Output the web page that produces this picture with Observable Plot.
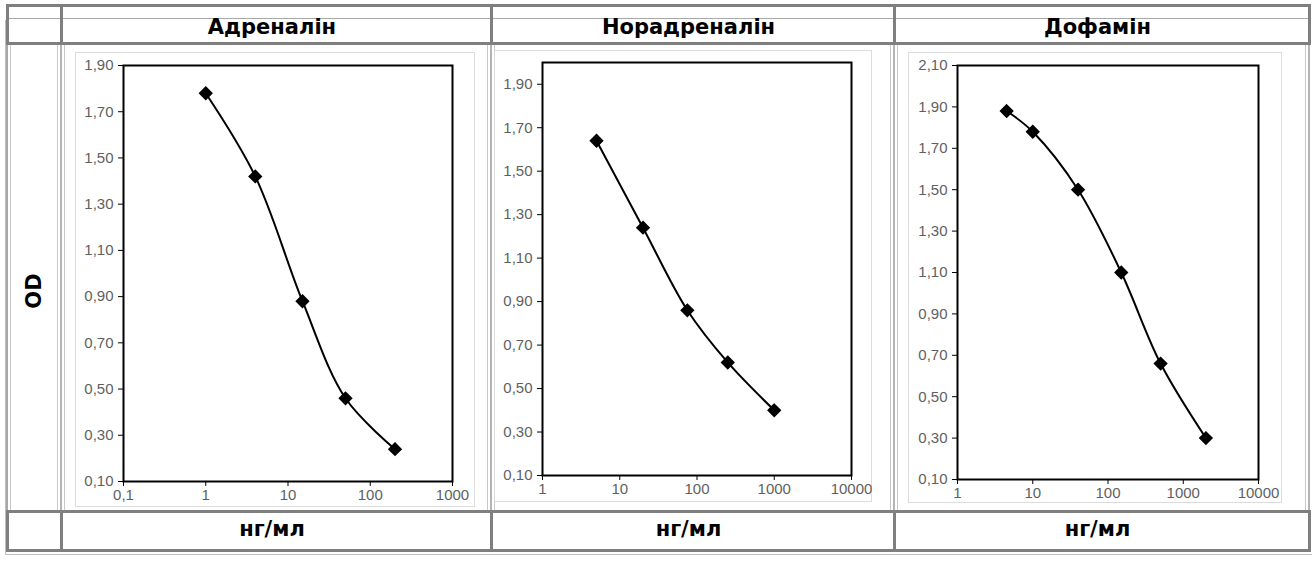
<!DOCTYPE html>
<html><head><meta charset="utf-8">
<script src="https://cdn.jsdelivr.net/npm/d3@7"></script>
<script src="https://cdn.jsdelivr.net/npm/@observablehq/plot@0.6"></script>
<style>
html,body{margin:0;padding:0;background:#fff;}
#root{position:relative;width:1312px;height:569px;overflow:hidden;font-family:"DejaVu Sans",sans-serif;}
.ln{position:absolute;}
.hd{position:absolute;font-weight:bold;font-size:21px;line-height:24px;color:#000;text-align:center;}
.chart{position:absolute;border:1px solid #dcdcdc;box-sizing:border-box;}
.chart svg text{fill:#5f5f5f;}
</style></head>
<body><div id="root"></div>
<script>
// ---- data ----
const titles = ["Адреналін", "Норадреналін", "Дофамін"];
const unitLabel = "нг/мл";
const yLabel = "OD";

const adrX = [1, 4, 15, 50, 200];
const adrY = [1.78, 1.42, 0.88, 0.46, 0.24];
const noradrX = [5, 20, 75, 250, 1000];
const noradrY = [1.64, 1.24, 0.86, 0.62, 0.40];
const dofX = [4.5, 10, 40, 150, 500, 2000];
const dofY = [1.88, 1.78, 1.50, 1.10, 0.66, 0.30];

const adrXTicks = [0.1, 1, 10, 100, 1000];
const adrYTicks = [0.10, 0.30, 0.50, 0.70, 0.90, 1.10, 1.30, 1.50, 1.70, 1.90];
const noradrXTicks = [1, 10, 100, 1000, 10000];
const noradrYTicks = [0.10, 0.30, 0.50, 0.70, 0.90, 1.10, 1.30, 1.50, 1.70, 1.90];
const dofXTicks = [1, 10, 100, 1000, 10000];
const dofYTicks = [0.10, 0.30, 0.50, 0.70, 0.90, 1.10, 1.30, 1.50, 1.70, 1.90, 2.10];

const root = document.getElementById("root");
function line(x, y, w, h, c) {
  const d = document.createElement("div");
  d.className = "ln";
  Object.assign(d.style, {left: x + "px", top: y + "px", width: w + "px", height: h + "px", background: c});
  root.appendChild(d);
}
function text(str, x, y, w, cls, extra) {
  const d = document.createElement("div");
  d.className = cls;
  d.textContent = str;
  Object.assign(d.style, {left: x + "px", top: y + "px", width: w + "px"}, extra || {});
  root.appendChild(d);
  return d;
}

// ---- table grid ----
const G = "#7f7f7f", L = "#c8c8c8";
const colX = [7, 61, 491, 894, 1309];
line(7, 4, 1303, 3, G);           // top
line(7, 18, 1303, 1, "#a8a8a8");  // light line
line(7, 42, 1303, 3, G);          // header bottom
line(7, 510, 1303, 3, G);         // units row top
line(7, 549, 1303, 3, G);         // bottom
line(5, 554, 1307, 1, "#bdbdbd");
// header verticals
colX.forEach(x => line(x - 1, 4, 3, 41, G));
// chart row verticals (double light lines)
colX.forEach((x, i) => {
  line(x - 1, 45, 2, 465, i === 0 ? "#a8a8a8" : "#b4b4b4");
  if (i > 0) line(x - 4, 45, 1, 465, L);
  if (i < 4) line(x + 3, 45, 1, 465, L);
});
// unit row verticals
colX.forEach(x => line(x - 1, 510, 3, 42, G));
line(5, 20, 1, 535, "#bdbdbd");

// ---- headers ----
for (let i = 0; i < 3; i++) {
  text(titles[i], colX[i + 1] - 4, 15, colX[i + 2] - colX[i + 1], "hd");
  text(unitLabel, colX[i + 1] - 4, 517, colX[i + 2] - colX[i + 1], "hd");
}
text(yLabel, 14, 279, 40, "hd", {transform: "rotate(-90deg)", transformOrigin: "20px 12px", width: "40px"});

// ---- charts ----
const fmtY = d => d.toFixed(2).replace(".", ",");
const fmtX = d => String(d).replace(".", ",");
function chart(xs, ys, xTicks, yTicks, xDom, yDom, box, m) {
  const data = xs.map((x, i) => ({x, y: ys[i]}));
  const p = Plot.plot({
    width: box.w - 2, height: box.h - 2,
    marginLeft: m[0], marginRight: m[1], marginTop: m[2], marginBottom: m[3],
    style: {fontFamily: "'Liberation Sans', Arial, sans-serif", fontSize: "15px", background: "transparent", overflow: "visible"},
    x: {type: "log", domain: xDom},
    y: {domain: yDom},
    marks: [
      Plot.axisX({ticks: xTicks, tickFormat: fmtX, tickSize: 5, tickPadding: 3, label: null, stroke: "#000", fontSize: 15}),
      Plot.axisY({ticks: yTicks, tickFormat: fmtY, tickSize: 5, tickPadding: 5, label: null, stroke: "#000", fontSize: 15}),
      Plot.line(data, {x: "x", y: "y", curve: "catmull-rom", stroke: "#000", strokeWidth: 2}),
      Plot.dot(data, {x: "x", y: "y", symbol: "diamond2", r: 5.5, fill: "#000", stroke: "#000"}),
      Plot.frame({stroke: "#000", strokeWidth: 2})
    ]
  });
  const div = document.createElement("div");
  div.className = "chart";
  Object.assign(div.style, {left: box.x + "px", top: box.y + "px", width: box.w + "px", height: box.h + "px"});
  div.appendChild(p);
  root.appendChild(div);
}
chart(adrX, adrY, adrXTicks, adrYTicks, [0.1, 1000], [0.1, 1.9],
  {x: 75, y: 52, w: 400, h: 455}, [47, 22, 12, 25]);
chart(noradrX, noradrY, noradrXTicks, noradrYTicks, [1, 10000], [0.1, 2.0],
  {x: 494, y: 50, w: 378, h: 452}, [47, 20, 11, 26]);
chart(dofX, dofY, dofXTicks, dofYTicks, [1, 10000], [0.1, 2.1],
  {x: 908, y: 52, w: 374, h: 451}, [48, 23, 12, 23]);
</script>
</body></html>
